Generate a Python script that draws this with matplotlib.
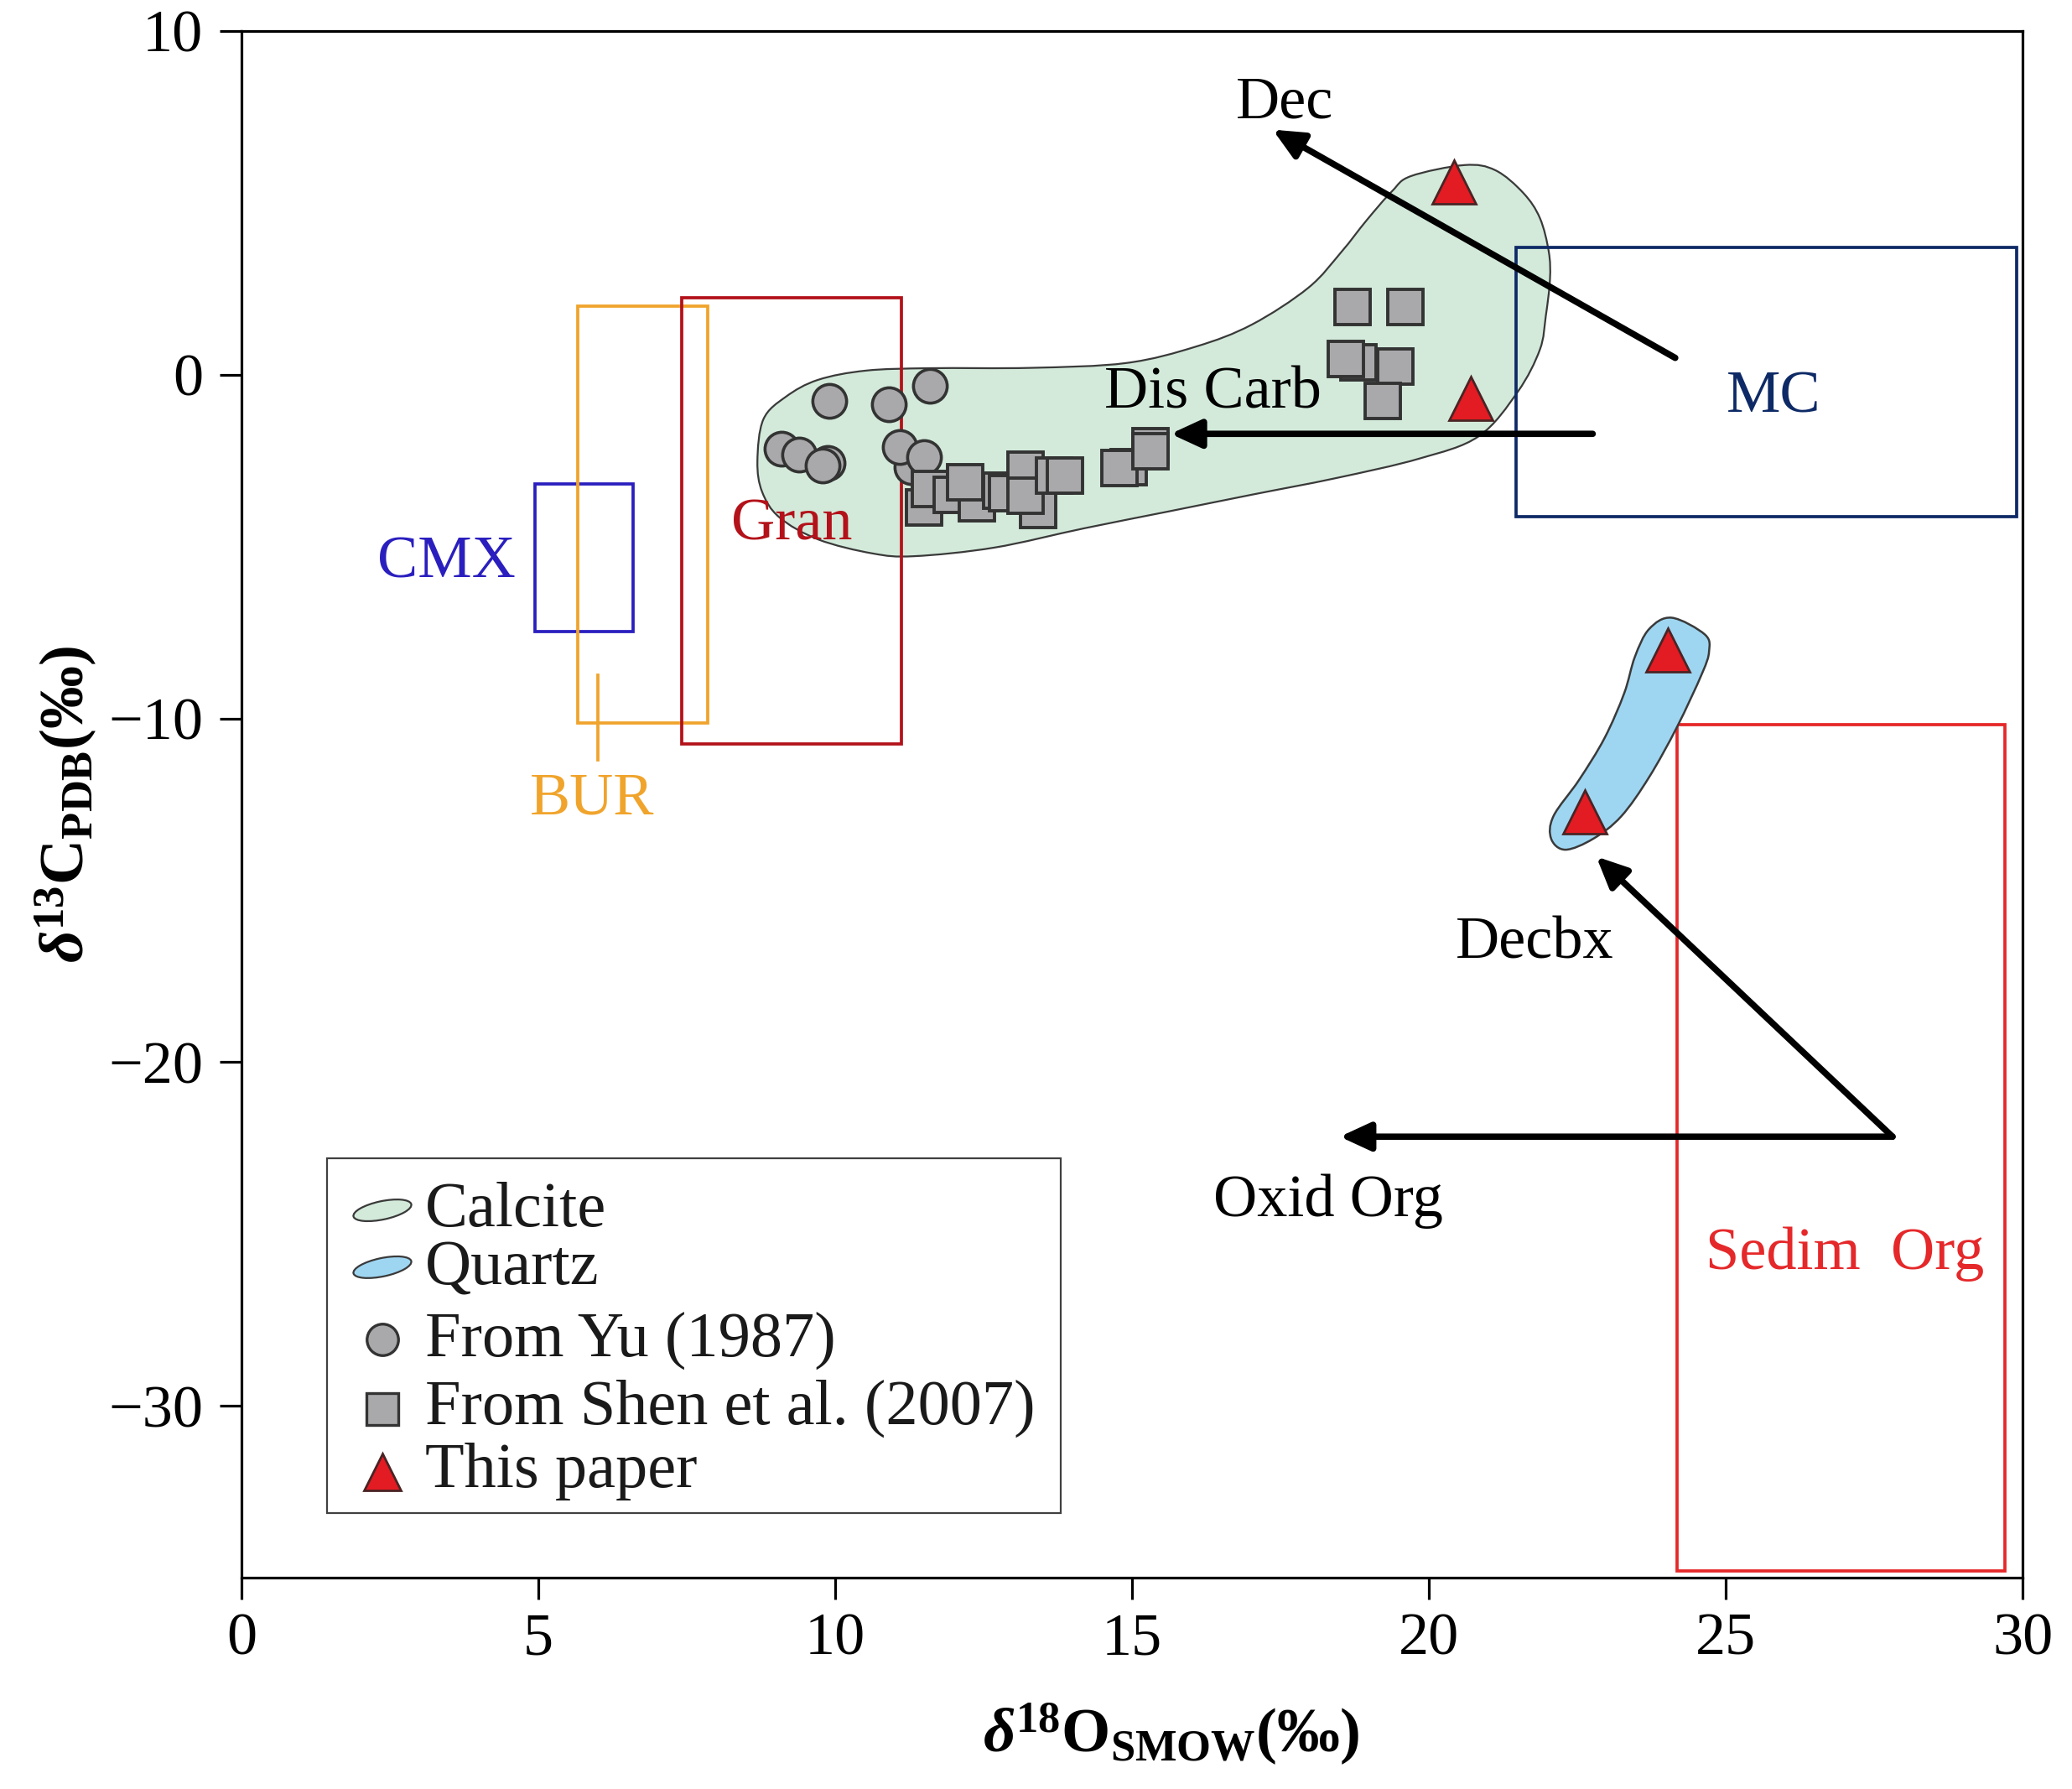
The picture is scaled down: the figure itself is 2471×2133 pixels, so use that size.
import numpy as np
import matplotlib
matplotlib.use('Agg')
import matplotlib.pyplot as plt
from matplotlib.patches import Rectangle, PathPatch, Ellipse
from matplotlib.path import Path

plt.rcParams['font.family'] = ['Liberation Serif', 'DejaVu Serif']
plt.rcParams['mathtext.fontset'] = 'custom'
plt.rcParams['mathtext.rm'] = 'Liberation Serif'
plt.rcParams['mathtext.bf'] = 'Liberation Serif:bold'
plt.rcParams['mathtext.it'] = 'Liberation Serif:italic'
HAS_BFIT = 'mathtext.bfit' in plt.rcParams
if HAS_BFIT:
    plt.rcParams['mathtext.bfit'] = 'Liberation Serif:italic:bold'

# ---------------- data ----------------
# From Yu (1987) - circles
yu_o = [9.90, 10.90, 11.60, 9.09, 9.39, 9.87, 9.79, 11.28, 11.09, 11.50]
yu_c = [-0.76, -0.85, -0.32, -2.15, -2.32, -2.56, -2.64, -2.68, -2.10, -2.40]

# From Shen et al. (2007) - squares
shen_o = [11.50, 11.60, 11.97, 12.39, 12.19, 12.80, 12.90, 13.20, 13.42, 13.20,
          13.69, 13.87, 14.95, 14.79, 15.31, 15.31, 18.72, 19.61, 18.81, 18.60,
          19.43, 19.22]
shen_c = [-3.86, -3.33, -3.49, -3.74, -3.13, -3.37, -3.45, -2.76, -3.94, -3.53,
          -2.93, -2.93, -2.68, -2.72, -2.07, -2.23, 1.96, 1.96, 0.37, 0.45,
          0.25, -0.77]

# This paper - triangles
paper_o = [20.43, 20.70, 24.02, 22.63]
paper_c = [5.60, -0.69, -8.01, -12.72]

# Calcite field outline
calcite_o = [8.69, 8.79, 9.17, 9.71, 10.52, 11.60, 13.30, 14.90, 16.08, 17.02,
             17.97, 18.53, 18.95, 19.38, 19.70, 20.60, 21.12, 21.59, 21.87, 22.02,
             22.04, 21.97, 21.87, 21.50, 20.84, 19.84, 18.43, 17.02, 15.61, 14.19,
             12.68, 11.33, 10.63, 9.71, 9.06, 8.77]
calcite_c = [-2.52, -1.30, -0.64, -0.15, 0.12, 0.19, 0.20, 0.34, 0.82, 1.46,
             2.53, 3.58, 4.49, 5.34, 5.78, 6.10, 5.95, 5.29, 4.56, 3.58,
             2.77, 1.71, 0.73, -0.49, -1.79, -2.44, -3.01, -3.49, -3.98, -4.47,
             -5.03, -5.28, -5.20, -4.79, -4.15, -3.41]

# Quartz field outline
quartz_o = [24.09, 24.65, 24.72, 24.60, 24.18, 23.71, 23.24, 22.77, 22.30, 22.06,
            22.10, 22.53, 22.96, 23.29, 23.47, 23.71]
quartz_c = [-7.07, -7.56, -8.05, -8.70, -10.25, -11.71, -12.85, -13.50, -13.82, -13.50,
            -12.84, -11.79, -10.57, -9.27, -8.21, -7.40]

# Reference fields (boxes)
field_names = ['CMX', 'BUR', 'Gran', 'MC', 'Sedim  Org']
field_o_min = [4.95, 5.66, 7.42, 21.47, 24.18]
field_o_max = [6.60, 7.85, 11.12, 29.90, 29.70]
field_c_min = [-7.47, -10.13, -10.75, -4.13, -34.80]
field_c_max = [-3.19, 1.99, 2.25, 3.71, -10.17]
field_label_o = [3.45, 5.91, 9.27, 25.81, 27.01]
field_label_c = [-5.90, -12.79, -4.81, -1.10, -26.02]

# BUR leader line
bur_line_o = [6.0, 6.0]
bur_line_c = [-8.75, -11.2]

# Process arrows (start -> end)
arrow_names = ['Dec', 'Dis Carb', 'Decbx', 'Oxid Org']
arrow_o0 = [24.15, 22.76, 27.81, 27.81]
arrow_c0 = [0.49, -1.72, -22.17, -22.17]
arrow_o1 = [17.37, 15.65, 22.82, 18.50]
arrow_c1 = [7.13, -1.72, -14.02, -22.17]
arrow_label_o = [17.57, 16.36, 21.79, 18.31]
arrow_label_c = [7.48, -0.97, -16.98, -24.48]

x_ticks = [0, 5, 10, 15, 20, 25, 30]
y_ticks = [-30, -20, -10, 0, 10]

legend_labels = ['Calcite', 'Quartz', 'From Yu (1987)', 'From Shen et al. (2007)', 'This paper']

# ---------------- styles ----------------
field_colors = ['#2A1FBE', '#F0A42C', '#B3121A', '#0E2A66', '#E5282A']
calcite_fill = '#D3EADA'
quartz_fill = '#9ED6F2'
gray_fill = '#A9A9AB'
edge_dark = '#333333'
tri_fill = '#E31B23'
tri_edge = '#4A2424'
FS = 52


def smooth_closed_path(xs, ys):
    P = np.column_stack([xs, ys]).astype(float)
    n = len(P)
    verts = [P[0]]
    codes = [Path.MOVETO]
    for i in range(n):
        p0 = P[(i - 1) % n]
        p1 = P[i]
        p2 = P[(i + 1) % n]
        p3 = P[(i + 2) % n]
        verts += [p1 + (p2 - p0) / 6.0, p2 - (p3 - p1) / 6.0, p2]
        codes += [Path.CURVE4] * 3
    verts.append(P[0])
    codes.append(Path.CLOSEPOLY)
    return Path(verts, codes)


fig = plt.figure(figsize=(24.71, 21.33), dpi=100)
ax = fig.add_axes([288 / 2471, 1 - 1881 / 2133, 2124 / 2471, 1844 / 2133])
ax.set_xlim(0, 30)
ax.set_ylim(-35, 10)

# envelopes
ax.add_patch(PathPatch(smooth_closed_path(calcite_o, calcite_c), facecolor=calcite_fill,
                       edgecolor='#3a3a3a', lw=1.6, zorder=1))
ax.add_patch(PathPatch(smooth_closed_path(quartz_o, quartz_c), facecolor=quartz_fill,
                       edgecolor='#3a3a3a', lw=1.8, zorder=2))

# fields
for name, x0, x1, y0, y1, lo, lc, col in zip(field_names, field_o_min, field_o_max,
                                             field_c_min, field_c_max, field_label_o,
                                             field_label_c, field_colors):
    ax.add_patch(Rectangle((x0, y0), x1 - x0, y1 - y0, fill=False, edgecolor=col,
                           lw=2.7, zorder=1.5))
    ax.text(lo, lc, name, color=col, fontsize=FS, ha='center', va='baseline', zorder=3)
ax.plot(bur_line_o, bur_line_c, color=field_colors[1], lw=2.7, zorder=1.5)

# data points
ax.plot(yu_o, yu_c, 'o', ms=29, mfc=gray_fill, mec=edge_dark, mew=2.6, zorder=4, ls='none')
ax.plot(shen_o, shen_c, 's', ms=30, mfc=gray_fill, mec=edge_dark, mew=2.8, zorder=4.5, ls='none')
ax.plot(paper_o, paper_c, '^', ms=37, mfc=tri_fill, mec=tri_edge, mew=2.0, zorder=5, ls='none')

# arrows
for name, x0, y0, x1, y1, lo, lc in zip(arrow_names, arrow_o0, arrow_c0, arrow_o1, arrow_c1,
                                        arrow_label_o, arrow_label_c):
    ax.annotate('', xy=(x1, y1), xytext=(x0, y0),
                arrowprops=dict(arrowstyle='-|>,head_length=0.65,head_width=0.3',
                                lw=5.5, color='black', shrinkA=0, shrinkB=0,
                                mutation_scale=34), zorder=6)
    ax.text(lo, lc, name, color='black', fontsize=FS, ha='center', va='baseline', zorder=3)

# axes styling
for sp in ax.spines.values():
    sp.set_linewidth(2.3)
    sp.set_color('black')
ax.set_xticks(x_ticks)
ax.set_yticks(y_ticks)
ax.tick_params(direction='out', length=19, width=2.3, labelsize=FS, top=False, right=False)
ax.tick_params(axis='x', pad=11)
ax.tick_params(axis='y', pad=14)

dstyle = r'\mathbfit{\delta}' if HAS_BFIT else r'\mathit{\delta}'
ax.set_xlabel(r'$' + dstyle + r'^{\mathbf{18}}\mathbf{O}_{\mathbf{SMOW}}\mathbf{(‰)}$', fontsize=54)
ax.set_ylabel(r'$' + dstyle + r'^{\mathbf{13}}\mathbf{C}_{\mathbf{PDB}}\mathbf{(‰)}$', fontsize=54)
ax.xaxis.set_label_coords(0.522, -0.080)
ax.yaxis.set_label_coords(-0.080, 0.5)

# legend (manual)
lx0, lx1, ly0, ly1 = 0.048, 0.46, 0.0418, 0.2711
ax.add_patch(Rectangle((lx0, ly0), lx1 - lx0, ly1 - ly0, transform=ax.transAxes,
                       facecolor='white', edgecolor='#404040', lw=1.6, zorder=7))
hx = 0.0791
tx = 0.1031
text_y = [0.2272, 0.1893, 0.1432, 0.0993, 0.0586]
for lab, ty in zip(legend_labels, text_y):
    ax.text(tx, ty, lab, transform=ax.transAxes, fontsize=55, ha='left', va='baseline',
            color='#1a1a1a', zorder=8)
ax.add_patch(Ellipse((hx, 0.2375), 0.0334, 0.0118, angle=14, transform=ax.transAxes,
                     facecolor=calcite_fill, edgecolor='#3a3a3a', lw=1.6, zorder=8))
ax.add_patch(Ellipse((hx, 0.2007), 0.0334, 0.0118, angle=14, transform=ax.transAxes,
                     facecolor=quartz_fill, edgecolor='#3a3a3a', lw=1.6, zorder=8))
ax.plot([hx], [0.154], 'o', ms=27, mfc=gray_fill, mec=edge_dark, mew=2.4,
        transform=ax.transAxes, zorder=8, clip_on=False)
ax.plot([hx], [0.109], 's', ms=28, mfc=gray_fill, mec=edge_dark, mew=2.4,
        transform=ax.transAxes, zorder=8, clip_on=False)
ax.plot([hx], [0.0683], '^', ms=32, mfc=tri_fill, mec=tri_edge, mew=2.0,
        transform=ax.transAxes, zorder=8, clip_on=False)

fig.savefig('out.png', dpi=100, facecolor='white')
